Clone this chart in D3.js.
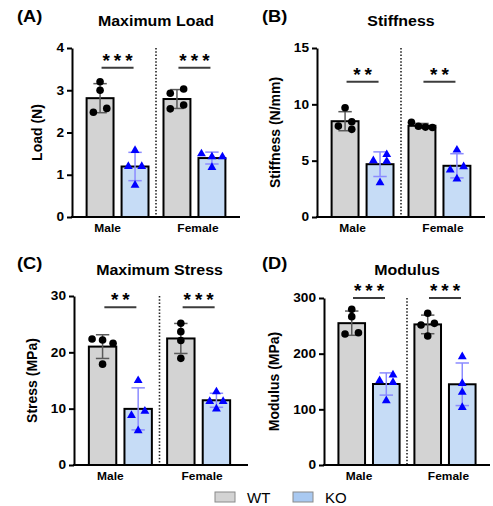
<!DOCTYPE html>
<html>
<head>
<meta charset="utf-8">
<script src="https://cdn.jsdelivr.net/npm/d3@7"></script>
<style>
  body { margin: 0; background: #fff; }
  text { font-family: "Liberation Sans", Arial, sans-serif; fill: #000; }
  .bold { font-weight: bold; }
</style>
</head>
<body>
<div id="chart"></div>
<script>
const width = 493
const height = 506
const SX = 1.14   // bold labels in the figure are a bit wider than Arial

// data: 4 animals per group, [Male, Female]
const sexes = ["Male", "Female"]
const genotypes = ["WT", "KO"]

const loadWT = [[3.2, 3.0, 2.57, 2.48], [3.03, 2.93, 2.65, 2.56]]
const loadKO = [[1.59, 1.21, 1.21, 0.77], [1.51, 1.44, 1.44, 1.19]]
const stiffWT = [[9.7, 8.46, 8.07, 7.78], [8.4, 8.05, 7.98, 7.95]]
const stiffKO = [[5.6, 5.05, 5.0, 3.1], [6.0, 4.52, 4.23, 3.43]]
const stressWT = [[22.37, 22.2, 21.6, 17.9], [25.15, 23.67, 22.1, 18.93]]
const stressKO = [[15.1, 9.65, 8.9, 6.2], [13.1, 11.4, 11.4, 10.06]]
const modWT = [[279.6, 266.5, 237.7, 235.3], [272.5, 254.5, 251.5, 231.7]]
const modKO = [[162.9, 152.7, 149.6, 116.8], [195.8, 147.8, 131.7, 104.7]]

const loadTicks = [0, 1, 2, 3, 4]
const stiffTicks = [0, 5, 10, 15]
const stressTicks = [0, 10, 20, 30]
const modTicks = [0, 100, 200, 300]

// significance stars per sex and the height of the bracket line (data units)
const loadSig = ["***", "***"]
const stiffSig = ["**", "**"]
const stressSig = ["**", "***"]
const modSig = ["***", "***"]
const sigLevels = [3.53, 12, 28, 300]

const panels = [
    {letter: "(A)", title: "Maximum Load", yTitle: "Load (N)", wt: loadWT, ko: loadKO, ticks: loadTicks, sig: loadSig, sigY: sigLevels[0]},
    {letter: "(B)", title: "Stiffness", yTitle: "Stiffness (N/mm)", wt: stiffWT, ko: stiffKO, ticks: stiffTicks, sig: stiffSig, sigY: sigLevels[1]},
    {letter: "(C)", title: "Maximum Stress", yTitle: "Stress (MPa)", wt: stressWT, ko: stressKO, ticks: stressTicks, sig: stressSig, sigY: sigLevels[2]},
    {letter: "(D)", title: "Modulus", yTitle: "Modulus (MPa)", wt: modWT, ko: modKO, ticks: modTicks, sig: modSig, sigY: sigLevels[3]}
]

// layout of each panel in page pixels
const layout = [
    {left: 72, top: 48, bottom: 217, barW: 168, axisW: 168, lx: 17, ly: 22, ty: 26},
    {left: 317, top: 48, bottom: 217, barW: 168, axisW: 168, lx: 262, ly: 22, ty: 26},
    {left: 74, top: 296, bottom: 465, barW: 171, axisW: 174, lx: 17, ly: 268.5, ty: 275},
    {left: 324, top: 298, bottom: 465, barW: 166, axisW: 166, lx: 262, ly: 268.5, ty: 275}
]

const colors = {
    WT: {fill: "#d3d3d3", err: "#5a5a5a", point: "#000000"},
    KO: {fill: "#c6dcf6", err: "#8b8bff", point: "#0000ff"}
}
const labelShift = [-10, 3.5]

const svg = d3.select("#chart").append("svg").attr("width", width).attr("height", height)

function wideText(g, x, y, txt, size, anchor) {
    return g.append("text")
        .attr("class", "bold")
        .attr("transform", `translate(${x},${y}) scale(${SX},1)`)
        .attr("text-anchor", anchor)
        .style("font-size", size + "px")
        .text(txt)
}

// spread points that would overlap, a bit like Prism's scatter
function dodge(vals, y) {
    const n = vals.length
    const order = d3.range(n).sort((a, b) => vals[b] - vals[a])
    const offs = new Array(n).fill(0)
    let clusters = [], cur = [order[0]]
    for (let k = 1; k < n; k++) {
        if (y(vals[order[k]]) - y(vals[order[k - 1]]) < 7) cur.push(order[k])
        else { clusters.push(cur); cur = [order[k]] }
    }
    clusters.push(cur)
    clusters.forEach(c => {
        const m = c.length
        if (m == 1) return
        let cols = 2
        while (cols < m && c.some((p, i) => i + cols < m && y(vals[c[i + cols]]) - y(vals[p]) < 6.2)) cols++
        const step = Math.min(13.4, 21 / (cols - 1))
        c.forEach((p, i) => {
            const j = i % cols
            offs[p] = cols == 2 ? (0.5 - j) * step : (j - (cols - 1) / 2) * step
        })
    })
    return offs
}

panels.forEach((p, pi) => {
    const L = layout[pi]
    const g = svg.append("g").attr("transform", `translate(${L.left},0)`)

    const y = d3.scaleLinear().domain([0, d3.max(p.ticks)]).range([L.bottom, L.top])
    const x0 = d3.scaleBand().domain(sexes).range([0, L.barW]).paddingInner(0.195).paddingOuter(0.19)
    const x1 = d3.scaleBand().domain(genotypes).range([0, x0.bandwidth()]).paddingInner(0.23)

    // groups of bars
    const groups = []
    sexes.forEach((s, si) => {
        genotypes.forEach(gt => {
            const vals = gt == "WT" ? p.wt[si] : p.ko[si]
            groups.push({sex: s, gt: gt, vals: vals, mean: d3.mean(vals), sd: d3.deviation(vals)})
        })
    })

    // dotted separator
    const sepX = (x0(sexes[0]) + x0.bandwidth() + x0(sexes[1])) / 2
    g.append("line")
        .attr("x1", sepX).attr("x2", sepX)
        .attr("y1", L.top).attr("y2", L.bottom)
        .attr("stroke", "#222").attr("stroke-width", 1.6)
        .attr("stroke-dasharray", "1.5 1.8")

    const bx = d => x0(d.sex) + x1(d.gt)
    const cx = d => bx(d) + x1.bandwidth() / 2

    g.selectAll("rect.bar").data(groups).enter().append("rect")
        .attr("class", "bar")
        .attr("x", bx)
        .attr("y", d => y(d.mean))
        .attr("width", x1.bandwidth())
        .attr("height", d => y(0) - y(d.mean))
        .attr("fill", d => colors[d.gt].fill)
        .attr("stroke", "#000").attr("stroke-width", 2)

    // error bars (mean +/- SD)
    const err = g.selectAll("g.err").data(groups).enter().append("g")
        .attr("class", "err")
        .attr("stroke", d => colors[d.gt].err)
        .attr("stroke-width", 1.5)
    err.append("line")
        .attr("x1", cx).attr("x2", cx)
        .attr("y1", d => y(d.mean + d.sd)).attr("y2", d => y(d.mean - d.sd))
    err.append("line")
        .attr("x1", d => cx(d) - 6.7).attr("x2", d => cx(d) + 6.7)
        .attr("y1", d => y(d.mean + d.sd)).attr("y2", d => y(d.mean + d.sd))
    err.append("line")
        .attr("x1", d => cx(d) - 6.7).attr("x2", d => cx(d) + 6.7)
        .attr("y1", d => y(d.mean - d.sd)).attr("y2", d => y(d.mean - d.sd))

    // individual points
    groups.forEach(d => {
        const offs = dodge(d.vals, y)
        const pts = d.vals.map((v, i) => ({v: v, dx: offs[i]}))
        if (d.gt == "WT") {
            g.selectAll(null).data(pts).enter().append("circle")
                .attr("cx", q => cx(d) + q.dx)
                .attr("cy", q => y(q.v))
                .attr("r", 3.8)
                .attr("fill", colors.WT.point)
        } else {
            g.selectAll(null).data(pts).enter().append("path")
                .attr("d", d3.symbol(d3.symbolTriangle, 34))
                .attr("transform", q => `translate(${cx(d) + q.dx},${y(q.v) + 0.6})`)
                .attr("fill", colors.KO.point)
        }
    })

    // axes
    const yAxis = d3.axisLeft(y).tickValues(p.ticks).tickFormat(d3.format("d"))
        .tickSize(5).tickSizeOuter(0).tickPadding(3)
    const yAxisGroup = g.append("g").call(yAxis)
    yAxisGroup.select(".domain").attr("stroke", "#000").attr("stroke-width", 2)
    yAxisGroup.selectAll(".tick line").attr("stroke", "#000").attr("stroke-width", 2)
    yAxisGroup.selectAll(".tick text")
        .attr("class", "bold")
        .style("font-size", "12px")
        .style("font-family", "'Liberation Sans', Arial, sans-serif")
        .attr("x", -8 / SX)
        .attr("transform", `scale(${SX},1)`)

    g.append("line")
        .attr("x1", -1).attr("x2", L.axisW)
        .attr("y1", L.bottom).attr("y2", L.bottom)
        .attr("stroke", "#000").attr("stroke-width", 2)

    // category labels
    sexes.forEach((s, si) => {
        wideText(g, x0(s) + x0.bandwidth() / 2 + labelShift[si], L.bottom + 15, s, 10.5, "middle")
    })

    // significance brackets
    sexes.forEach((s, si) => {
        const c = x0(s) + x0.bandwidth() / 2
        const ly = y(p.sigY)
        g.append("line")
            .attr("x1", c - 16).attr("x2", c + 16)
            .attr("y1", ly).attr("y2", ly)
            .attr("stroke", "#3c3c3c").attr("stroke-width", 2)
        g.append("text")
            .attr("class", "bold")
            .attr("x", c + 2).attr("y", ly - 1)
            .attr("text-anchor", "middle")
            .style("font-size", "19px")
            .style("letter-spacing", "4px")
            .attr("fill", "#3c3c3c")
            .text(p.sig[si])
    })

    // y axis title, placed left of the tick labels
    const tb = yAxisGroup.node().getBBox()
    g.append("text")
        .attr("class", "bold")
        .attr("transform", `translate(${tb.x - 14},${(L.top + L.bottom) / 2}) rotate(-90)`)
        .attr("text-anchor", "middle")
        .style("font-size", "14px")
        .text(p.yTitle)

    // title and panel letter
    wideText(g, L.barW / 2, L.ty, p.title, 14, "middle")
    wideText(svg, L.lx, L.ly, p.letter, 16, "start")
})

// legend
const legend = svg.append("g").attr("id", "legend")
const legendItems = [{key: "WT", x: 215}, {key: "KO", x: 293}]
const legendFill = {WT: "#d3d3d3", KO: "#a9c9f1"}
legendItems.forEach(d => {
    legend.append("rect")
        .attr("x", d.x).attr("y", 492).attr("width", 20).attr("height", 10)
        .attr("fill", legendFill[d.key]).attr("stroke", "#8a8a8a").attr("stroke-width", 1)
    legend.append("text")
        .attr("x", d.x + 32).attr("y", 502.5)
        .style("font-size", "15px")
        .attr("fill", "#222")
        .text(d.key)
})
</script>
</body>
</html>
